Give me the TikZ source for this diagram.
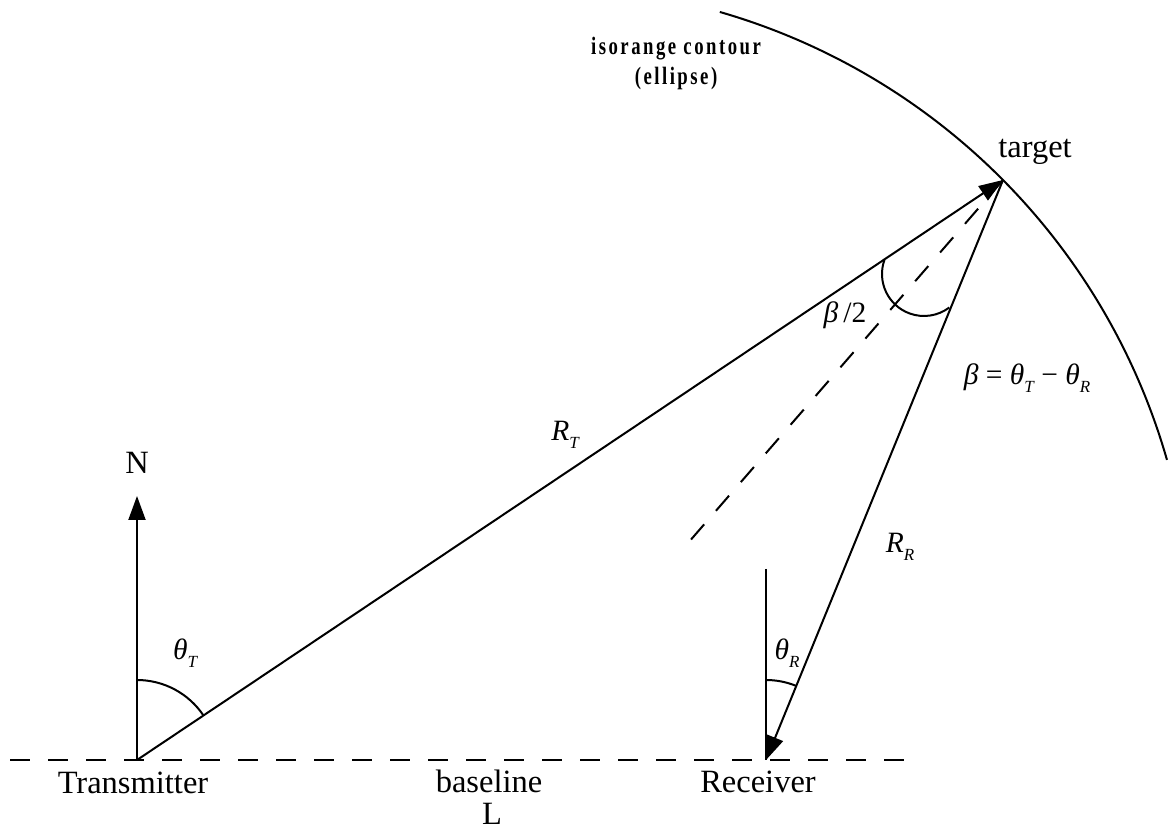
\documentclass[tikz,border=0pt]{standalone}
\usepackage{fontspec}
\setmainfont{Liberation Serif}
\newfontfamily\contourfont[FakeStretch=0.75,LetterSpace=10]{Liberation Serif}
\usetikzlibrary{arrows.meta}
\newcommand{\mysub}[1]{\raisebox{-0.28em}{\fontsize{17}{17}\selectfont\itshape #1}}
\begin{document}
\begin{tikzpicture}[x=1pt,y=1pt,
  line/.style={line width=2pt},
  arr/.style={line width=2pt,-{Triangle[length=24pt,width=17pt]}},
  dsh/.style={line width=2pt,dash pattern=on 20pt off 18pt},
  lbl/.style={inner sep=0pt,font=\fontsize{32.5}{36}\selectfont},
  mlbl/.style={inner sep=0pt,font=\fontsize{29.5}{32}\selectfont\itshape},
  clbl/.style={inner sep=0pt,font=\fontsize{25}{28}\selectfont\contourfont\bfseries},
]
\useasboundingbox (0,0) rectangle (1170,832);
% points
\coordinate (T) at (137,72);
\coordinate (N) at (137,336);
\coordinate (Tg) at (1003,652);
\coordinate (R) at (766,72);
\coordinate (Rtop) at (766,263);
\coordinate (Bis) at (688,289);
\coordinate (BL1) at (10,72);
\coordinate (BL2) at (919,72);
\coordinate (Ec) at (538.5,191.9);
% baseline and bisector
\draw[dsh] (BL1) -- (BL2);
\draw[dsh] (Tg) -- (Bis);
% lines
\draw[arr] (T) -- (N);
\draw[arr] (T) -- (Tg);
\draw[arr] (Tg) -- (R);
\draw[line] (Rtop) -- (R);
% angle arcs
\draw[line] ([shift={(90:80)}]T) arc[start angle=90,end angle=33.8,radius=80];
\draw[line] ([shift={(90:80)}]R) arc[start angle=90,end angle=67.8,radius=80];
\coordinate (Bc) at (924,558);
\draw[line] ([shift={(160:42)}]Bc) arc[start angle=160,end angle=307,radius=42];
% isorange contour
\draw[line] ([shift={(73.9:653.8)}]Ec) arc[start angle=73.9,end angle=16,radius=653.8];
% labels
\node[lbl] (nN) at (137,369) {N};
\node[lbl] (nTx) at (133,49) {Transmitter};
\node[lbl] (nRx) at (758,50) {Receiver};
\node[lbl] (nBase) at (489,51) {baseline};
\node[lbl] (nL) at (492,18) {L};
\node[lbl] (nTarget) at (1035,680) {target};
\node[mlbl] (thT) at (185,179) {θ\mysub{T}};
\node[mlbl] (thR) at (787,179) {θ\mysub{R}};
\node[mlbl] (RT) at (565,397) {R\mysub{T}};
\node[mlbl] (RR) at (900,285) {R\mysub{R}};
\node[mlbl] (bh) at (845,517) {β\,{\upshape/2}};
\node[mlbl] (beq) at (1027,454) {β {\upshape =} θ\mysub{T} {\upshape −} θ\mysub{R}};
\node[clbl] (c1) at (676,783) {isorange contour};
\node[clbl] (c2) at (676,754) {(ellipse)};
\end{tikzpicture}
\end{document}
